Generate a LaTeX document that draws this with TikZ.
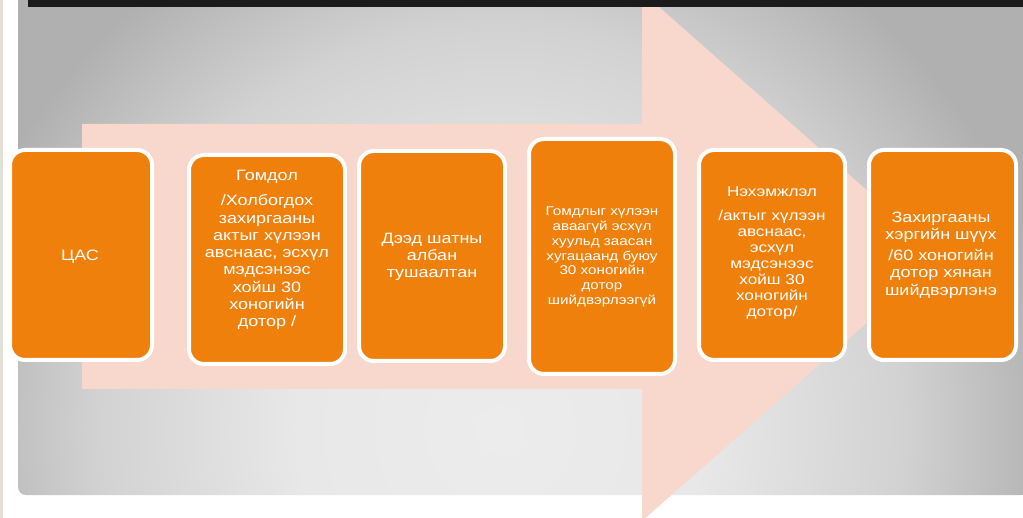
\documentclass[tikz,border=0pt]{standalone}
\usepackage{fontspec}
\setmainfont{Liberation Sans}
\newfontfamily\boxfont[FakeStretch=1.2]{Liberation Sans}

\definecolor{slidebar}{HTML}{1B1B1B}
\definecolor{slideedge}{HTML}{E4E0D8}
\definecolor{arrowpeach}{HTML}{F8D8CC}
\definecolor{steporange}{HTML}{F0800C}
\definecolor{glowin}{HTML}{ECECEC}
\definecolor{glowmid}{HTML}{E8E8E8}
\definecolor{glowtop}{HTML}{D2D2D2}
\definecolor{glowedge}{HTML}{BFBFBF}
\definecolor{glowout}{HTML}{B0B0B0}

\pgfdeclareradialshading{slideglow}{\pgfpoint{0bp}{0bp}}{color(0bp)=(glowin); color(9bp)=(glowmid); color(18bp)=(glowtop); color(22bp)=(glowedge); color(25bp)=(glowout); color(50bp)=(glowout)}

\tikzset{
  stepbox/.style={draw=white, line width=4pt, fill=steporange, rounded corners=15pt},
  steptext/.style={text=white, align=center, font=\boxfont\fontsize{15}{17.3}\selectfont}
}

\begin{document}
\begin{tikzpicture}[x=1pt, y=-1pt]

\useasboundingbox (0,0) rectangle (1023,518);
\clip (0,0) rectangle (1023,518);

%Slide background
\fill [white] (0,0) rectangle (1023,518);
\fill [slideedge] (0,0) rectangle (3,518);
\begin{scope}
\clip (1030,0) -- (18,0) -- (18,300) [rounded corners=8pt] -- (18,495) -- (1030,495) [sharp corners] -- cycle;
\shade [shading=slideglow] (-60,-130) rectangle (1060,990);
\end{scope}

%Big arrow
\fill [arrowpeach] (82,124) -- (642,124) -- (642,-8) -- (942,256.5)
  -- (642,521) -- (642,389) -- (82,389) -- cycle;

%Title bar
\fill [slidebar] (28,0) rectangle (1023,7);

%Step boxes
\node [stepbox, minimum width=142pt, minimum height=210pt] (cas) at (81,255) {};
\node [stepbox, minimum width=156pt, minimum height=209pt] (gomdol) at (267,259.5) {};
\node [stepbox, minimum width=146pt, minimum height=210pt] (deed) at (432,256) {};
\node [stepbox, minimum width=146pt, minimum height=235pt] (huleen) at (602,256.5) {};
\node [stepbox, minimum width=146pt, minimum height=210pt] (nehemjlel) at (772,255) {};
\node [stepbox, minimum width=147pt, minimum height=210pt] (shuuh) at (942.5,255) {};

%Box labels
\node [steptext] (castext) at (80,257) {ЦАС};
\node [steptext] (gomdoltext) at (267,250) {Гомдол\\[8pt]
  /Холбогдох\\захиргааны\\актыг хүлээн\\авснаас, эсхүл\\мэдсэнээс\\хойш 30\\хоногийн\\дотор /};
\node [steptext] (deedtext) at (432,257) {Дээд шатны\\албан\\тушаалтан};
\node [steptext, font=\boxfont\fontsize{12.7}{14.7}\selectfont] (huleentext) at (602,257)
  {Гомдлыг хүлээн\\аваагүй эсхүл\\хуульд заасан\\хугацаанд буюу\\30 хоногийн\\дотор\\шийдвэрлээгүй};
\node [steptext, font=\boxfont\fontsize{14.3}{16}\selectfont] (nehemjleltext) at (772,253)
  {Нэхэмжлэл\\[8pt]/актыг хүлээн\\авснаас,\\эсхүл\\мэдсэнээс\\хойш 30\\хоногийн\\дотор/};
\node [steptext] (shuuhtext) at (941,255) {Захиргааны\\хэргийн шүүх\\[4pt]
  /60 хоногийн\\дотор хянан\\шийдвэрлэнэ};

\end{tikzpicture}
\end{document}
